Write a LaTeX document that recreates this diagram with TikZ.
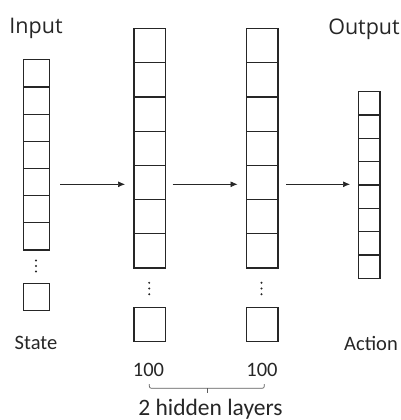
\documentclass[tikz,border=0pt]{standalone}
\usepackage{fontspec}
\setmainfont{Carlito}
\newfontfamily\headfont{Open Sans}
\usetikzlibrary{arrows.meta}
\definecolor{ink}{HTML}{262626}
\tikzset{
  cell/.style={draw=ink, line width=1.2pt, inner sep=0pt, anchor=north west},
  flow/.style={draw=ink, line width=0.7pt, -{Latex[length=7pt,width=6pt]}},
  lbl/.style={text=ink, inner sep=0pt, font=\fontsize{20.5}{24}\selectfont},
  title/.style={text=ink, inner sep=0pt, font=\headfont\fontsize{21.5}{26}\selectfont},
  dot/.style={fill=ink, draw=none},
}
\begin{document}
\begin{tikzpicture}[x=1pt, y=-1pt]
\useasboundingbox (0,0) rectangle (401,420);

% input layer: 7 cells, dots, last cell
\foreach \i in {0,...,6}
  \node[cell, minimum width=26pt, minimum height=27.15pt] (in\i) at (23, 59.3+\i*27.15) {};
\foreach \d in {-5.5,0,5.5} \fill[dot] (36, 266+\d) circle (1.1);
\node[cell, minimum width=26pt, minimum height=27.3pt] (inN) at (23, 282.7) {};

% first hidden layer
\foreach \i in {0,...,6}
  \node[cell, minimum width=31.7pt, minimum height=34.2pt] (ha\i) at (133.3, 28+\i*34.2) {};
\foreach \d in {-5.7,0,5.7} \fill[dot] (149.2, 288.5+\d) circle (1.1);
\node[cell, minimum width=31.7pt, minimum height=34.3pt] (haN) at (133.3, 306.7) {};

% second hidden layer
\foreach \i in {0,...,6}
  \node[cell, minimum width=31.7pt, minimum height=34.2pt] (hb\i) at (245.7, 28+\i*34.2) {};
\foreach \d in {-5.7,0,5.7} \fill[dot] (261.5, 288.5+\d) circle (1.1);
\node[cell, minimum width=31.7pt, minimum height=34.3pt] (hbN) at (245.7, 306.7) {};

% output layer: 8 cells
\foreach \i in {0,...,7}
  \node[cell, minimum width=21.6pt, minimum height=23.33pt] (out\i) at (357.7, 91+\i*23.33) {};

% connectors between layers
\coordinate (a1s) at (60,184.3);   \coordinate (a1e) at (125,184.3);
\coordinate (a2s) at (172.7,184.3); \coordinate (a2e) at (237.5,184.3);
\coordinate (a3s) at (286,184.3);  \coordinate (a3e) at (350,184.3);
\draw[flow] (a1s) -- (a1e);
\draw[flow] (a2s) -- (a2e);
\draw[flow] (a3s) -- (a3e);

% labels
\node[title] (tin) at (36, 28) {Input};
\node[title] (tout) at (364, 29) {Output};
\node[lbl] (state) at (36, 343) {State};
\node[lbl] (action) at (371, 343) {Action};
\node[lbl] (n1) at (148.5, 370) {100};
\node[lbl] (n2) at (262, 370) {100};

% bracket grouping the hidden layers
\draw[draw=ink!75, line width=0.7pt, rounded corners=2pt]
  (149.3,384) -- (149.3,388.3) -- (264.3,388.3) -- (264.3,384);
\draw[draw=ink!75, line width=0.7pt] (207.3,388.3) -- (207.3,393);
\node[lbl, font=\fontsize{23.5}{28}\selectfont] (hidden) at (210.5, 409) {2 hidden layers};
\end{tikzpicture}
\end{document}
